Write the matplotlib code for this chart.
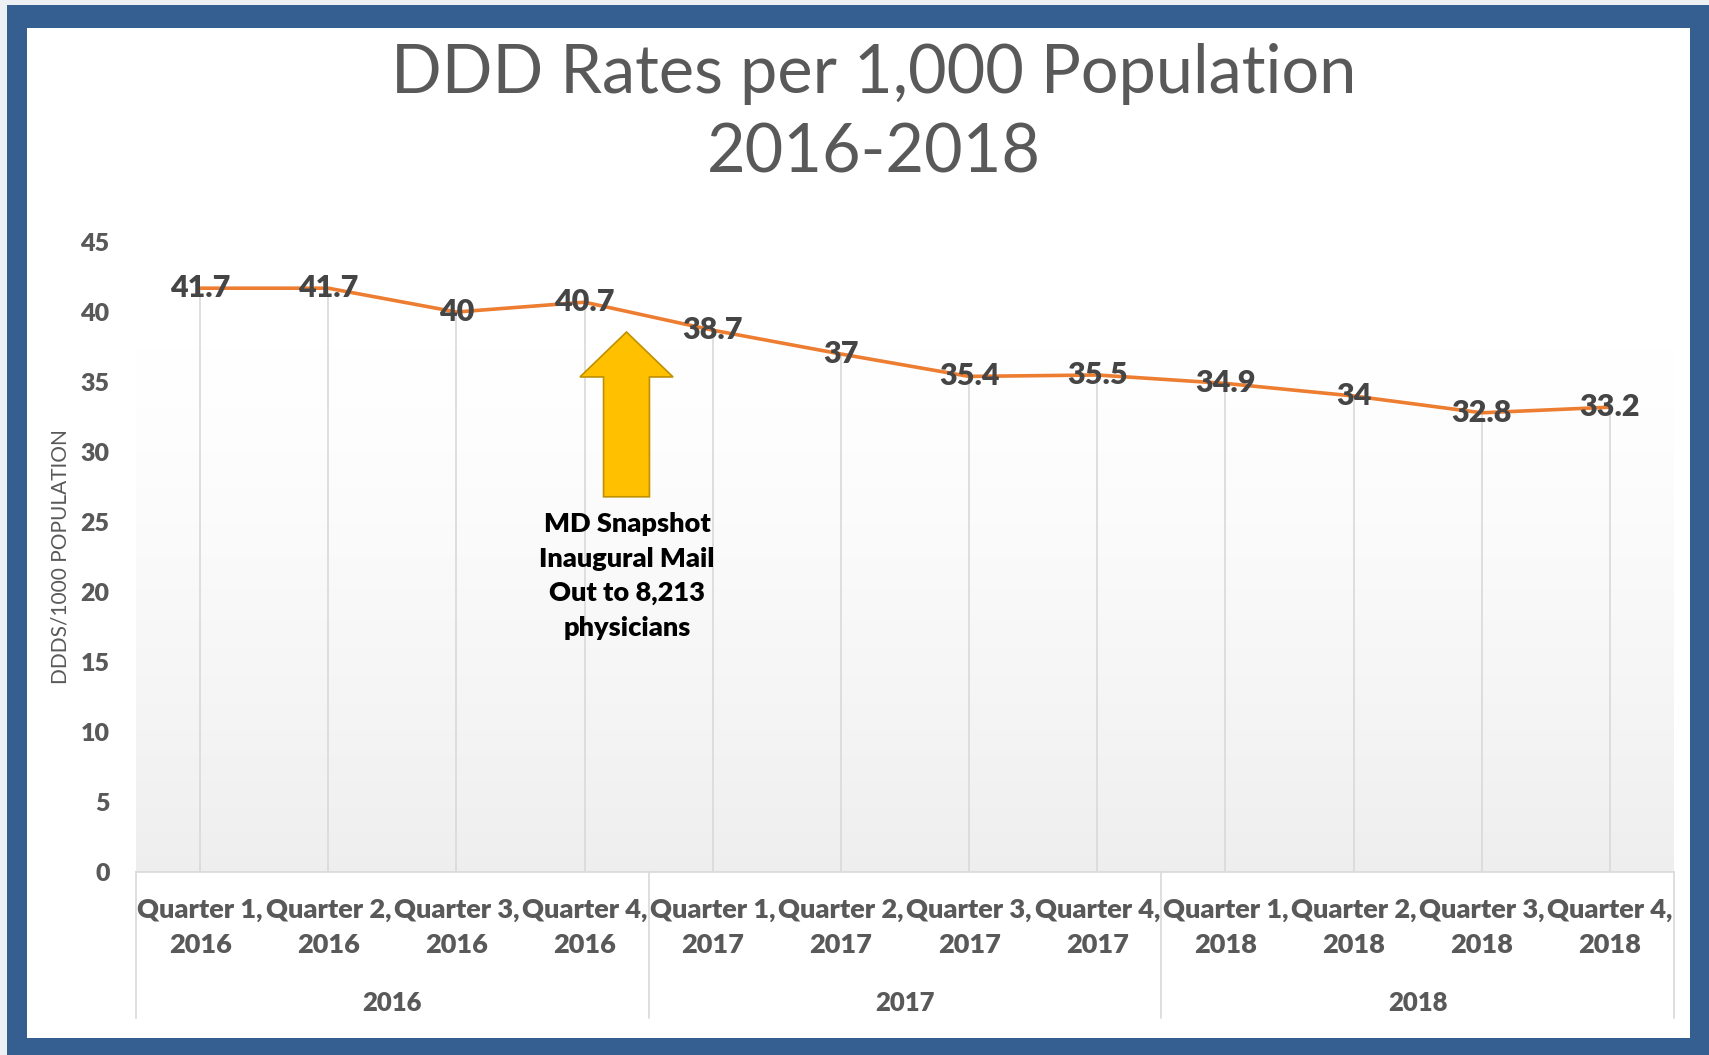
import matplotlib
matplotlib.use("Agg")
import matplotlib.pyplot as plt
from matplotlib.patches import Rectangle, FancyArrow
from matplotlib import transforms
import numpy as np

# ---------------- data ----------------
quarters = ["Quarter 1,", "Quarter 2,", "Quarter 3,", "Quarter 4,"] * 3
years = ["2016"] * 4 + ["2017"] * 4 + ["2018"] * 4
groups = ["2016", "2017", "2018"]
rates = [41.7, 41.7, 40.0, 40.7, 38.7, 37.0, 35.4, 35.5, 34.9, 34.0, 32.8, 33.2]
yticks = [0, 5, 10, 15, 20, 25, 30, 35, 40, 45]
title_l1 = "DDD Rates per 1,000 Population"
title_l2 = "2016-2018"
ylabel = "DDDS/1000 POPULATION"
note = "MD Snapshot\nInaugural Mail\nOut to 8,213\nphysicians"

W, H = 1709, 1055
FONT = ["Lato", "DejaVu Sans"]
plt.rcParams["font.family"] = FONT
GRAY = "#595959"
BOLD = "heavy"

fig = plt.figure(figsize=(W / 100, H / 100), dpi=100)
fig.patch.set_facecolor("#eef1f4")

def fx(px):
    return px / W

def fy(py):
    return 1 - py / H

# blue frame and white panel
fig.add_artist(Rectangle((fx(7), 0), 1 - fx(7), fy(5), transform=fig.transFigure,
                         facecolor="#355f91", edgecolor="none", zorder=0))
fig.add_artist(Rectangle((fx(27), fy(1038)), fx(1690 - 27), (1038 - 28) / H, transform=fig.transFigure,
                         facecolor="white", edgecolor="none", zorder=0))

# axes
ax_left, ax_right = 136, 1674
ax_top, ax_bot = 242, 872
ax = fig.add_axes([fx(ax_left), fy(ax_bot), (ax_right - ax_left) / W, (ax_bot - ax_top) / H])
ax.set_facecolor("none")
ax.patch.set_alpha(0)

x = np.arange(len(rates))

# gradient backdrop in plot area
grad = np.linspace(0, 1, 256) ** 1.3
top_c = np.array([1.0, 1.0, 1.0])
bot_c = np.array([0.935, 0.935, 0.935])
img = top_c[None, :] * (1 - grad[:, None]) + bot_c[None, :] * grad[:, None]
img = img.reshape(256, 1, 3)
ax.imshow(img, extent=[0, 1, 0, (872 - 348) / (872 - 242)], transform=ax.transAxes,
          aspect="auto", zorder=0, interpolation="bilinear")

# drop lines
ax.vlines(x, 0, rates, color="#d9d9d9", lw=1.2, zorder=1)
# line
ax.plot(x, rates, color="#ED7D31", lw=2.6, zorder=3, solid_capstyle="round")
# data labels
for xi, v in zip(x, rates):
    ax.text(xi, v, f"{v:g}", ha="center", va="center", fontsize=22, fontweight=BOLD,
            color="#454545", zorder=4)

ax.set_xlim(-0.5, len(rates) - 0.5)
ax.set_ylim(0, 45)

# y axis
ax.set_yticks(yticks)
ax.set_yticklabels([str(t) for t in yticks], fontsize=18, fontweight=BOLD, color=GRAY)
ax.tick_params(axis="y", length=0, pad=19)
ax.set_xticks([])
for s in ax.spines.values():
    s.set_visible(False)

ax.text(-0.0494, 0.5, ylabel, transform=ax.transAxes, rotation=90, ha="center", va="center",
        fontsize=15, color=GRAY)

# category axis
tr = transforms.blended_transform_factory(ax.transData, ax.transAxes)
span = ax_bot - ax_top
ax.plot([-0.5, len(rates) - 0.5], [0, 0], transform=tr, color="#d9d9d9", lw=1.2, clip_on=False)
for sep in [-0.5, 3.5, 7.5, 11.5]:
    ax.plot([sep, sep], [0, -(1018 - 872) / span], transform=tr, color="#d9d9d9", lw=1.2,
            clip_on=False)
for xi, q, yr in zip(x, quarters, years):
    ax.text(xi, -(910 - 872) / span, q, transform=tr, ha="center", va="center",
            fontsize=19.5, fontweight=BOLD, color=GRAY)
    ax.text(xi, -(945 - 872) / span, yr, transform=tr, ha="center", va="center",
            fontsize=19.5, fontweight=BOLD, color=GRAY)
for gi, g in enumerate(groups):
    ax.text(gi * 4 + 1.5, -(1003 - 872) / span, g, transform=tr, ha="center", va="center",
            fontsize=18.5, fontweight=BOLD, color=GRAY)

# arrow annotation
arrow = FancyArrow(3.327, 26.8, 0, 38.57 - 26.8, width=0.358, head_width=0.726,
                   head_length=38.57 - 35.36, length_includes_head=True,
                   facecolor="#FFC000", edgecolor="#BF9000", lw=1.2, zorder=5)
ax.add_patch(arrow)
ax.text(3.33, 21.14, note, ha="center", va="center", fontsize=19.5, fontweight=BOLD,
        color="black", linespacing=1.52, zorder=5)

# title
fig.text(fx(874), fy(74), title_l1, ha="center", va="center", fontsize=48, color=GRAY)
fig.text(fx(874), fy(153), title_l2, ha="center", va="center", fontsize=48, color=GRAY)

fig.savefig("out.png", dpi=100, facecolor=fig.get_facecolor())
